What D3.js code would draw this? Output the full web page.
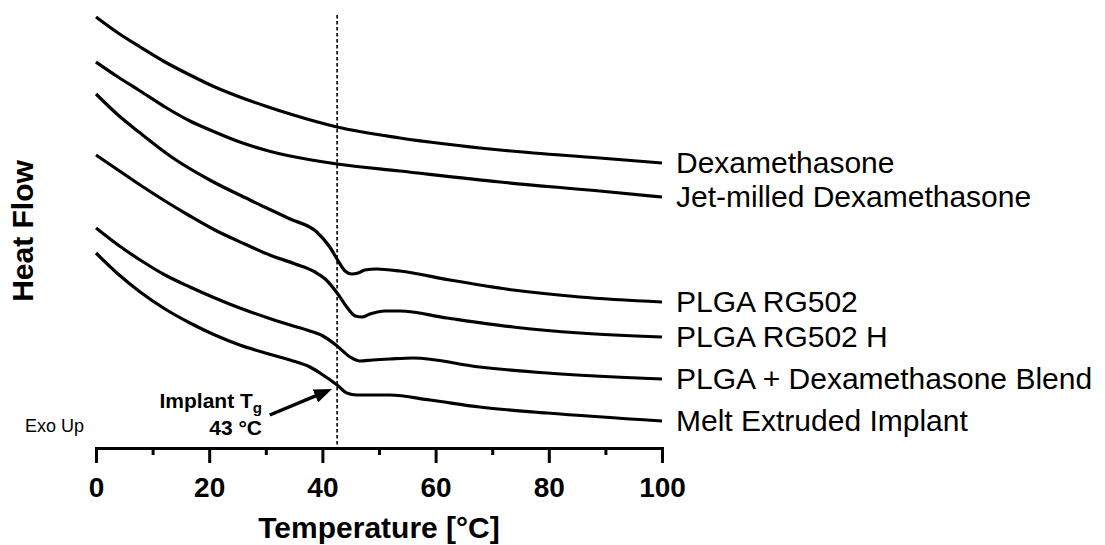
<!DOCTYPE html>
<html>
<head>
<meta charset="utf-8">
<script src="https://cdnjs.cloudflare.com/ajax/libs/d3/7.8.5/d3.min.js"></script>
<style>
    body { margin: 0; background: #fff; }
    svg { display: block; font-family: "Liberation Sans", Arial, sans-serif; }
</style>
</head>
<body>
<div id="chart"></div>
<script>

// series names, in the order of the labels on the right
const seriesNames = ["Dexamethasone", "Jet-milled Dexamethasone", "PLGA RG502",
    "PLGA RG502 H", "PLGA + Dexamethasone Blend", "Melt Extruded Implant"];

// temperature [°C] and heat flow (arbitrary, stacked)
const dexT   = [0, 3.9, 7.8, 12.2, 16.6, 21.0, 25.4, 29.9, 34.3, 42.6, 53.7, 71.4, 89.0, 100];
const dexHF  = [21.55, 20.75, 20.05, 19.3, 18.65, 18.05, 17.55, 17.1, 16.7, 16.05, 15.5, 14.9, 14.5, 14.25];

const jetT   = [0, 3.9, 7.8, 12.2, 16.6, 21.0, 25.4, 29.9, 34.3, 42.6, 53.7, 71.4, 89.0, 100];
const jetHF  = [19.3, 18.55, 17.85, 17.05, 16.35, 15.8, 15.3, 14.9, 14.6, 14.2, 13.85, 13.3, 12.85, 12.55];

const rgT    = [0, 3.9, 7.8, 13.6, 20.1, 27.2, 34.3, 39.0, 41.3, 42.8, 44.0, 45.2, 46.3, 47.5, 49.6, 53.7, 62.5, 73.7, 85.5, 100];
const rgHF   = [17.7, 16.65, 15.75, 14.5, 13.4, 12.4, 11.45, 10.8, 10.05, 9.35, 8.85, 8.7, 8.75, 8.9, 8.95, 8.85, 8.4, 7.9, 7.55, 7.3];

const rghT   = [0, 3.9, 7.8, 12.2, 16.6, 21.0, 26.3, 30.7, 35.2, 38.7, 40.5, 42.6, 44.3, 45.8, 47.0, 48.4, 51.1, 53.7, 62.0, 73.7, 85.5, 100];
const rghHF  = [14.65, 13.9, 13.15, 12.35, 11.6, 10.9, 10.2, 9.65, 9.2, 8.8, 8.45, 7.75, 7.05, 6.6, 6.55, 6.7, 6.85, 6.85, 6.5, 6.05, 5.75, 5.55];

const blendT  = [0, 3.9, 7.8, 12.2, 16.6, 21.0, 25.4, 29.9, 34.3, 37.8, 40.1, 42.6, 44.9, 46.6, 48.9, 51.9, 56.0, 67.8, 79.7, 100];
const blendHF = [11.0, 10.15, 9.4, 8.65, 8.05, 7.5, 7.0, 6.55, 6.15, 5.85, 5.6, 5.1, 4.55, 4.35, 4.4, 4.45, 4.5, 4.05, 3.75, 3.45];

const meltT  = [0, 3.9, 7.8, 12.2, 16.6, 21.0, 25.4, 29.9, 34.3, 37.8, 40.1, 42.6, 44.3, 46.1, 49.3, 51.9, 59.0, 67.8, 79.7, 100];
const meltHF = [9.75, 8.7, 7.8, 6.95, 6.25, 5.65, 5.15, 4.75, 4.4, 4.05, 3.65, 3.15, 2.75, 2.65, 2.65, 2.65, 2.4, 2.05, 1.75, 1.35];

const majorTicks = [0, 20, 40, 60, 80, 100];
const minorTicks = [10, 30, 50, 70, 90];

// glass transition of the implant
const tgValue = 42.6;
const tgLabel = "43 °C";
// arrow from annotation to the step: [T, heat flow]
const arrowFrom = [30.7, 1.65];
const arrowTo   = [41.7, 2.95];

const width = 1105, height = 545;

let svg = d3.select("#chart").append("svg")
    .attr("width", width)
    .attr("height", height);

let x = d3.scaleLinear().domain([0, 100]).range([96, 662]);
let y = d3.scaleLinear().domain([0, 21.65]).range([448, 15]);

// pack the arrays into series
let series = [
    {name: seriesNames[0], t: dexT, hf: dexHF},
    {name: seriesNames[1], t: jetT, hf: jetHF},
    {name: seriesNames[2], t: rgT, hf: rgHF},
    {name: seriesNames[3], t: rghT, hf: rghHF},
    {name: seriesNames[4], t: blendT, hf: blendHF},
    {name: seriesNames[5], t: meltT, hf: meltHF}
].map(function (s) {
    s.points = s.t.map(function (t, i) { return [t, s.hf[i]]; });
    return s;
});

let line = d3.line()
    .x(function (d) { return x(d[0]); })
    .y(function (d) { return y(d[1]); })
    .curve(d3.curveMonotoneX);

// dotted Tg marker
svg.append("line")
    .attr("x1", x(tgValue)).attr("x2", x(tgValue))
    .attr("y1", y(21.65)).attr("y2", y(0) - 2)
    .style("stroke", "#000")
    .style("stroke-width", 1.6)
    .style("stroke-dasharray", "3.5,2.5");

// thermograms
svg.append("g")
    .selectAll("path")
    .data(series)
    .enter().append("path")
    .attr("d", function (d) { return line(d.points); })
    .style("fill", "none")
    .style("stroke", "#000")
    .style("stroke-width", 3.2)
    .style("stroke-linejoin", "round");

// labels at the end of every curve
svg.append("g")
    .selectAll("text")
    .data(series)
    .enter().append("text")
    .attr("x", x(100) + 14)
    .attr("y", function (d) { return y(d.hf[d.hf.length - 1]) - 1; })
    .attr("dy", "0.36em")
    .style("font-size", "30px")
    .text(function (d) { return d.name; });

// x axis: major and minor ticks
let axisG = svg.append("g")
    .attr("transform", "translate(0," + y(0) + ")");

axisG.append("g")
    .call(d3.axisBottom(x).tickValues(minorTicks).tickSize(7).tickSizeOuter(0).tickFormat(""))
    .call(function (g) { g.select(".domain").remove(); });

axisG.append("g")
    .call(d3.axisBottom(x).tickValues(majorTicks).tickSize(15).tickSizeOuter(0).tickFormat(d3.format("d")));

axisG.selectAll("line").style("stroke", "#000").style("stroke-width", 3);
axisG.selectAll(".domain").style("stroke", "#000").style("stroke-width", 3).style("stroke-linecap", "square");
axisG.selectAll("text")
    .attr("y", 29)
    .attr("dy", "0.71em")
    .style("fill", "#000")
    .style("font-family", "'Liberation Sans', Arial, sans-serif")
    .style("font-size", "28px")
    .style("font-weight", "bold");

// axis titles
svg.append("text")
    .attr("x", (x(0) + x(100)) / 2)
    .attr("y", 538)
    .attr("text-anchor", "middle")
    .style("font-size", "30px")
    .style("font-weight", "bold")
    .text("Temperature [°C]");

svg.append("text")
    .attr("transform", "translate(33," + 231 + ") rotate(-90)")
    .attr("text-anchor", "middle")
    .style("font-size", "30px")
    .style("font-weight", "bold")
    .text("Heat Flow");

svg.append("text")
    .attr("x", 25)
    .attr("y", 432)
    .style("font-size", "18px")
    .text("Exo Up");

// Tg annotation
let ann = svg.append("text")
    .attr("x", 262)
    .attr("y", 408)
    .attr("text-anchor", "end")
    .style("font-size", "21px")
    .style("font-weight", "bold");
ann.append("tspan").text("Implant T");
ann.append("tspan").attr("dy", 5).style("font-size", "15px").text("g");

svg.append("text")
    .attr("x", 262)
    .attr("y", 435)
    .attr("text-anchor", "end")
    .style("font-size", "21px")
    .style("font-weight", "bold")
    .text(tgLabel);

svg.append("defs").append("marker")
    .attr("id", "arrowhead")
    .attr("viewBox", "0 0 18 14")
    .attr("markerUnits", "userSpaceOnUse")
    .attr("markerWidth", 18)
    .attr("markerHeight", 14)
    .attr("refX", 8)
    .attr("refY", 7)
    .attr("orient", "auto")
    .append("path")
    .attr("d", "M0,0 L18,7 L0,14 Z")
    .style("fill", "#000");

let p0 = [x(arrowFrom[0]), y(arrowFrom[1])],
    p1 = [x(arrowTo[0]), y(arrowTo[1])];
let len = Math.hypot(p1[0] - p0[0], p1[1] - p0[1]);
// stop the shaft short so the head's tip lands on p1
let shaftEnd = [p1[0] - (p1[0] - p0[0]) / len * 10, p1[1] - (p1[1] - p0[1]) / len * 10];

svg.append("line")
    .attr("x1", p0[0]).attr("y1", p0[1])
    .attr("x2", shaftEnd[0]).attr("y2", shaftEnd[1])
    .style("stroke", "#000")
    .style("stroke-width", 3.5)
    .attr("marker-end", "url(#arrowhead)");

</script>
</body>
</html>
